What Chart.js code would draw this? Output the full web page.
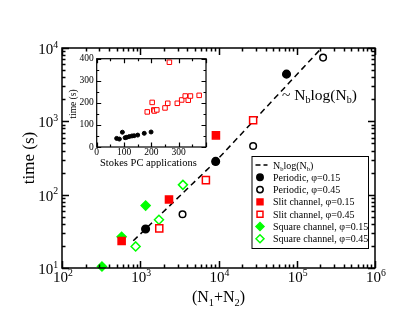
<!DOCTYPE html>
<html>
<head>
<meta charset="utf-8">
<script src="https://cdn.jsdelivr.net/npm/chart.js@4.4.0/dist/chart.umd.min.js"></script>
<style>
body { margin: 0; background: #fff; }
#wrap { position: relative; width: 407px; height: 315px; }
#main { position: absolute; left: 0; top: 0; }
#inset { position: absolute; left: 60px; top: 48px; }
</style>
</head>
<body>
<div id="wrap">
  <canvas id="main" width="407" height="315"></canvas>
  <canvas id="inset" width="152" height="130"></canvas>
</div>
<script>
// main panel: x = N1+N2, y = time (s)
var periodic15X = [1170, 9200, 74000]
var periodic15Y = [34, 284, 4400]
var periodic45X = [3470, 27700, 217000]
var periodic45Y = [54, 460, 7400]
var slit15X = [578, 2330, 9270]
var slit15Y = [23.3, 86, 644]
var slit45X = [1750, 6900, 27700]
var slit45Y = [34.7, 158, 1033]
var square15X = [324, 578, 1172]
var square15Y = [10.5, 26.7, 71]
var square45X = [873, 1734, 3510]
var square45Y = [19.7, 45.5, 136]
var fitX = [815, 9200, 197000]
var fitY = [23.5, 284, 9400]

var xDecades = [100, 1000, 10000, 100000, 1000000]
var yDecades = [10, 100, 1000, 10000]

// inset: time vs number of Stokes PC applications
var pcBlackX = [73, 83, 94, 104, 110, 119, 129, 137, 150, 174, 199]
var pcBlackY = [39, 36, 67, 42, 44, 47, 50, 51, 54, 62, 68]
var pcRedX = [185, 203, 209, 211, 220, 250, 260, 266, 295, 311, 324, 335, 343, 375]
var pcRedY = [159, 202, 168, 163, 168, 177, 198, 384, 198, 213, 231, 212, 231, 234]
var insetXLabels = [0, 100, 200, 300]
var insetYLabels = [0, 100, 200, 300, 400]

var SERIF = '"Liberation Serif", "DejaVu Serif", serif'

function pts(xs, ys) {
    return xs.map((x, i) => ({x: x, y: ys[i]}))
}

// parts: [text, 'n' | 'sub' | 'sup']
function richText(ctx, parts, x, y, size, align)
{
    var small = size * 0.65
    var w = 0
    parts.forEach(p => {
        ctx.font = (p[1] == 'n' ? size : small) + 'px ' + SERIF
        w += ctx.measureText(p[0]).width
    })
    var cx = align == 'center' ? x - w / 2 : (align == 'right' ? x - w : x)
    ctx.textAlign = 'left'
    ctx.textBaseline = 'alphabetic'
    parts.forEach(p => {
        ctx.font = (p[1] == 'n' ? size : small) + 'px ' + SERIF
        var dy = p[1] == 'sup' ? -size * 0.42 : (p[1] == 'sub' ? size * 0.22 : 0)
        ctx.fillText(p[0], cx, y + dy)
        cx += ctx.measureText(p[0]).width
    })
}

function drawTicks(ctx, chart, xMajor, xMinor, yMajor, yMinor, big, small)
{
    var ca = chart.chartArea
    var sx = chart.scales.x, sy = chart.scales.y
    ctx.beginPath()
    var tx = (v, len) => {
        var p = Math.round(sx.getPixelForValue(v)) + 0.5
        ctx.moveTo(p, ca.bottom); ctx.lineTo(p, ca.bottom - len)
        ctx.moveTo(p, ca.top); ctx.lineTo(p, ca.top + len)
    }
    var ty = (v, len) => {
        var p = Math.round(sy.getPixelForValue(v)) + 0.5
        ctx.moveTo(ca.left, p); ctx.lineTo(ca.left + len, p)
        ctx.moveTo(ca.right, p); ctx.lineTo(ca.right - len, p)
    }
    xMajor.forEach(v => tx(v, big))
    xMinor.forEach(v => tx(v, small))
    yMajor.forEach(v => ty(v, big))
    yMinor.forEach(v => ty(v, small))
    ctx.stroke()
    ctx.strokeRect(ca.left, ca.top, ca.right - ca.left, ca.bottom - ca.top)
}

function minors(decades) {
    var out = []
    for (var i = 0; i < decades.length - 1; i++)
        for (var k = 2; k <= 9; k++) out.push(decades[i] * k)
    return out
}

var legendRows = [
    {parts: [['N', 'n'], ['b', 'sub'], ['log(N', 'n'], ['b', 'sub'], [')', 'n']], line: true},
    {parts: [['Periodic, φ=0.15', 'n']], ds: 0},
    {parts: [['Periodic, φ=0.45', 'n']], ds: 1},
    {parts: [['Slit channel, φ=0.15', 'n']], ds: 2},
    {parts: [['Slit channel, φ=0.45', 'n']], ds: 3},
    {parts: [['Square channel, φ=0.15', 'n']], ds: 4},
    {parts: [['Square channel, φ=0.45', 'n']], ds: 5}
]

var mainDecor = {
    id: 'mainDecor',
    afterDraw(chart) {
        var ctx = chart.ctx
        var ca = chart.chartArea
        var sx = chart.scales.x, sy = chart.scales.y
        ctx.save()
        ctx.strokeStyle = '#000'
        ctx.fillStyle = '#000'
        ctx.lineWidth = 1.5
        drawTicks(ctx, chart, xDecades, minors(xDecades), yDecades, minors(yDecades), 7, 3.5)

        // tick labels
        xDecades.forEach(v => {
            richText(ctx, [['10', 'n'], [String(Math.round(Math.log10(v))), 'sup']],
                sx.getPixelForValue(v) + 1, ca.bottom + 14, 15, 'center')
        })
        yDecades.forEach(v => {
            richText(ctx, [['10', 'n'], [String(Math.round(Math.log10(v))), 'sup']],
                ca.left - 4, sy.getPixelForValue(v) + 6, 15, 'right')
        })

        // axis titles
        richText(ctx, [['(N', 'n'], ['1', 'sub'], ['+N', 'n'], ['2', 'sub'], [')', 'n']],
            (ca.left + ca.right) / 2, ca.bottom + 34, 16, 'center')
        ctx.save()
        ctx.translate(30, (ca.top + ca.bottom) / 2)
        ctx.rotate(-Math.PI / 2)
        ctx.font = '17px ' + SERIF
        ctx.textAlign = 'center'
        ctx.textBaseline = 'middle'
        ctx.fillText('time (s)', 0, 0)
        ctx.restore()

        // annotation next to the fit line
        richText(ctx, [['~ N', 'n'], ['b', 'sub'], ['log(N', 'n'], ['b', 'sub'], [')', 'n']],
            ca.left + 220, ca.top + 52, 15.5, 'left')

        // legend box
        var lx = ca.right - 123.5, ly = ca.top + 108
        ctx.fillStyle = '#fff'
        ctx.fillRect(lx, ly, 116.5, 92)
        ctx.lineWidth = 1
        ctx.strokeStyle = '#000'
        ctx.strokeRect(lx + 0.5, ly + 0.5, 116.5, 92)
        legendRows.forEach((row, i) => {
            var ry = ly + 9 + i * 12.3
            if (row.line) {
                ctx.save()
                ctx.lineWidth = 1.5
                ctx.setLineDash([5, 3])
                ctx.beginPath()
                ctx.moveTo(lx + 4, ry); ctx.lineTo(lx + 16, ry)
                ctx.stroke()
                ctx.restore()
            } else {
                var ds = chart.data.datasets[row.ds]
                ctx.fillStyle = ds.backgroundColor
                ctx.strokeStyle = ds.borderColor
                ctx.lineWidth = ds.borderWidth
                Chart.helpers.drawPoint(ctx, {
                    pointStyle: ds.pointStyle,
                    radius: ds.pointStyle == 'circle' ? 3.2 : (ds.pointStyle == 'rect' ? 4.2 : 4),
                    rotation: 0,
                    borderWidth: ds.borderWidth
                }, lx + 8.5, ry)
            }
            ctx.fillStyle = '#000'
            richText(ctx, row.parts, lx + 21.5, ry + 3.5, 10, 'left')
        })
        ctx.restore()
    }
}

function marker(label, xs, ys, style, color, filled, r) {
    return {
        label: label,
        data: pts(xs, ys),
        pointStyle: style,
        pointRadius: r,
        pointHoverRadius: r,
        backgroundColor: filled ? color : '#fff',
        borderColor: color,
        borderWidth: 1.5,
        clip: false
    }
}

new Chart(document.getElementById('main'), {
    type: 'scatter',
    data: {
        datasets: [
            marker('Periodic, φ=0.15', periodic15X, periodic15Y, 'circle', '#000', true, 3.8),
            marker('Periodic, φ=0.45', periodic45X, periodic45Y, 'circle', '#000', false, 3.3),
            marker('Slit channel, φ=0.15', slit15X, slit15Y, 'rect', '#ff0000', true, 5),
            marker('Slit channel, φ=0.45', slit45X, slit45Y, 'rect', '#ff0000', false, 5),
            marker('Square channel, φ=0.15', square15X, square15Y, 'rectRot', '#00ff00', true, 4.5),
            marker('Square channel, φ=0.45', square45X, square45Y, 'rectRot', '#00ff00', false, 4.5),
            {
                type: 'line',
                label: 'Nb log(Nb)',
                data: pts(fitX, fitY),
                borderColor: '#000',
                borderWidth: 1.5,
                borderDash: [6, 4],
                pointRadius: 0,
                fill: false,
                tension: 0
            }
        ]
    },
    options: {
        responsive: false,
        animation: false,
        layout: { padding: { left: 62, top: 48, right: 32, bottom: 47 } },
        scales: {
            x: { type: 'logarithmic', min: 100, max: 1000000, display: false },
            y: { type: 'logarithmic', min: 10, max: 10000, display: false }
        },
        plugins: { legend: { display: false }, tooltip: { enabled: false } }
    },
    plugins: [mainDecor]
})

var insetDecor = {
    id: 'insetDecor',
    beforeDatasetsDraw(chart) {
        var ca = chart.chartArea
        chart.ctx.save()
        chart.ctx.fillStyle = '#fff'
        chart.ctx.fillRect(ca.left, ca.top, ca.right - ca.left, ca.bottom - ca.top)
        chart.ctx.restore()
    },
    afterDraw(chart) {
        var ctx = chart.ctx
        var ca = chart.chartArea
        var sx = chart.scales.x, sy = chart.scales.y
        ctx.save()
        ctx.strokeStyle = '#000'
        ctx.fillStyle = '#000'
        ctx.lineWidth = 1.2
        drawTicks(ctx, chart, [0, 100, 200, 300, 400], [50, 150, 250, 350],
            [0, 100, 200, 300, 400], [50, 150, 250, 350], 4.5, 2.5)
        ctx.font = '9.5px ' + SERIF
        ctx.textAlign = 'right'
        ctx.textBaseline = 'middle'
        insetYLabels.forEach(v => ctx.fillText(String(v), ca.left - 3, sy.getPixelForValue(v)))
        ctx.textAlign = 'center'
        ctx.textBaseline = 'top'
        insetXLabels.forEach(v => ctx.fillText(String(v), sx.getPixelForValue(v), ca.bottom + 1))
        ctx.font = '10.5px ' + SERIF
        ctx.fillText('Stokes PC applications', (ca.left + ca.right) / 2 - 3, ca.bottom + 11)
        ctx.save()
        ctx.translate(13, 56)
        ctx.rotate(-Math.PI / 2)
        ctx.font = '9.5px ' + SERIF
        ctx.textBaseline = 'middle'
        ctx.fillText('time (s)', 0, 0)
        ctx.restore()
        ctx.restore()
    }
}

new Chart(document.getElementById('inset'), {
    type: 'scatter',
    data: {
        datasets: [
            {
                data: pts(pcBlackX, pcBlackY),
                pointStyle: 'circle',
                pointRadius: 2,
                backgroundColor: '#000',
                borderColor: '#000',
                borderWidth: 1
            },
            {
                data: pts(pcRedX, pcRedY),
                pointStyle: 'rect',
                pointRadius: 3.2,
                backgroundColor: '#fff',
                borderColor: '#ff0000',
                borderWidth: 1
            }
        ]
    },
    options: {
        responsive: false,
        animation: false,
        layout: { padding: { left: 36.7, top: 10.7, right: 6, bottom: 31 } },
        scales: {
            x: { type: 'linear', min: 0, max: 400, display: false },
            y: { type: 'linear', min: 0, max: 400, display: false }
        },
        plugins: { legend: { display: false }, tooltip: { enabled: false } }
    },
    plugins: [insetDecor]
})
</script>
</body>
</html>
